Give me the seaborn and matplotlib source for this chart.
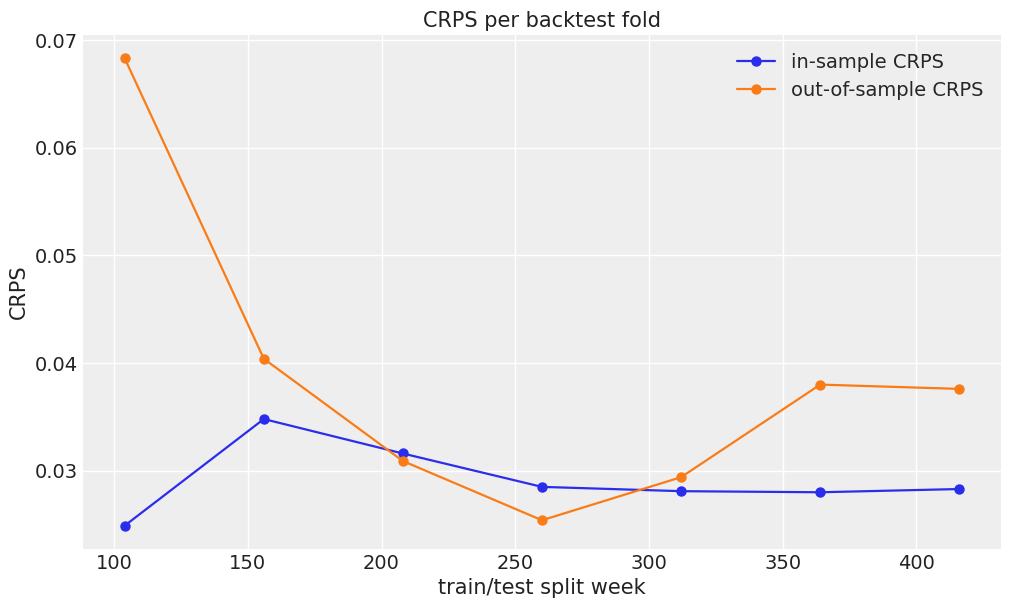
import matplotlib
matplotlib.use("Agg")
import matplotlib.pyplot as plt
import pandas as pd
import seaborn as sns

split_week = [104, 156, 208, 260, 312, 364, 416]
in_sample_crps = [0.0249, 0.0348, 0.0316, 0.0285, 0.0281, 0.0280, 0.0283]
out_sample_crps = [0.0683, 0.0404, 0.0309, 0.0254, 0.0294, 0.0380, 0.0376]

sns.set_theme(style="darkgrid", rc={
    "axes.facecolor": "#eeeeee",
    "grid.color": "white",
    "axes.edgecolor": "white",
    "axes.spines.left": False,
    "axes.spines.right": False,
    "axes.spines.top": False,
    "axes.spines.bottom": False,
})
plt.rcParams["font.family"] = ["DejaVu Sans"]

df = pd.DataFrame({
    "week": split_week * 2,
    "crps": in_sample_crps + out_sample_crps,
    "kind": ["in-sample CRPS"] * len(split_week) + ["out-of-sample CRPS"] * len(split_week),
})

fig, ax = plt.subplots(figsize=(10.11, 6.11), dpi=100)
fig.subplots_adjust(left=83 / 1011, right=1001 / 1011, top=1 - 35 / 611, bottom=1 - 549 / 611)

sns.lineplot(data=df, x="week", y="crps", hue="kind",
             palette=["#2a2eec", "#fa7c17"], marker="o", markersize=7.5,
             markeredgewidth=0, linewidth=1.6, ax=ax)

ax.set_title("CRPS per backtest fold", fontsize=15, color="#222222")
ax.set_xlabel("train/test split week", fontsize=15, color="#222222")
ax.set_ylabel("CRPS", fontsize=15, color="#222222")
ax.tick_params(labelsize=14, colors="#222222", length=0)
ax.set_yticks([0.03, 0.04, 0.05, 0.06, 0.07])
ax.set_xticks([100, 150, 200, 250, 300, 350, 400])
ax.legend(title=None, frameon=False, fontsize=14, loc="upper right")

fig.savefig("out.png", dpi=100)
